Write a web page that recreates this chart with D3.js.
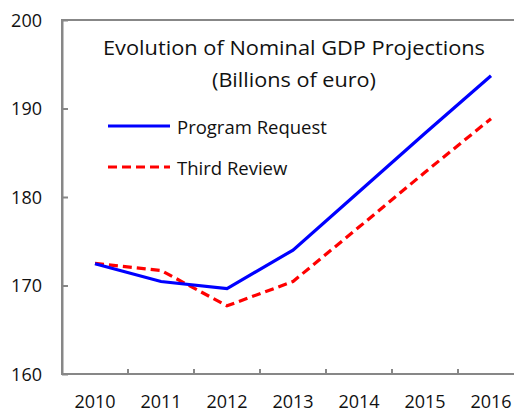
<!DOCTYPE html>
<html>
<head>
<meta charset="utf-8">
<script src="https://cdn.jsdelivr.net/npm/d3@7"></script>
<style>
  html, body { margin: 0; padding: 0; background: #fff; }
  svg { display: block; font-family: "Open Sans", "Noto Sans", sans-serif; }
</style>
</head>
<body>
<svg id="chart" width="514" height="413"></svg>
<script>
const years = ["2010", "2011", "2012", "2013", "2014", "2015", "2016"];
const programRequest = [172.45, 170.45, 169.65, 174.0, 180.6, 187.2, 193.7];
const thirdReview = [172.5, 171.7, 167.7, 170.45, 176.6, 182.8, 188.85];
const yTicks = [160, 170, 180, 190, 200];
const seriesNames = ["Program Request", "Third Review"];
const titleLines = ["Evolution of Nominal GDP Projections", "(Billions of euro)"];

(function () {
const svg = d3.select("#chart");
const mLeft = 62, mRight = 524, mTop = 20, mBottom = 374;

const x = d3.scaleBand().domain(years).range([mLeft, mRight]).padding(0);
const y = d3.scaleLinear().domain([160, 200]).range([mBottom, mTop]);

const axisColor = "#878787";

// Frame
svg.append("rect")
  .attr("x", mLeft).attr("y", mTop)
  .attr("width", mRight - mLeft).attr("height", mBottom - mTop)
  .attr("fill", "none").attr("stroke", axisColor).attr("stroke-width", 2);

// Y axis
const yAxis = svg.append("g")
  .attr("transform", `translate(${mLeft},0)`)
  .call(d3.axisLeft(y).tickValues(yTicks).tickSizeInner(-6).tickSizeOuter(0).tickPadding(20));
yAxis.select(".domain").attr("stroke", axisColor).attr("stroke-width", 2);
yAxis.selectAll(".tick line").attr("stroke", axisColor).attr("stroke-width", 2);
yAxis.selectAll(".tick text")
  .attr("font-size", 18).attr("fill", "#111")
  .attr("font-family", "'Open Sans', sans-serif")
  .attr("dy", "0.36em");

// X axis
const xAxis = svg.append("g").attr("transform", `translate(0,${mBottom})`);
xAxis.append("line")
  .attr("x1", mLeft).attr("x2", mRight).attr("y1", 0).attr("y2", 0)
  .attr("stroke", axisColor).attr("stroke-width", 2);
xAxis.selectAll(".xtick").data(years.slice(1)).enter().append("line")
  .attr("x1", d => x(d)).attr("x2", d => x(d))
  .attr("y1", 0).attr("y2", -5)
  .attr("stroke", axisColor).attr("stroke-width", 2);
xAxis.selectAll(".xlabel").data(years).enter().append("text")
  .attr("x", d => x(d) + x.bandwidth() / 2)
  .attr("y", 34)
  .attr("text-anchor", "middle")
  .attr("font-size", 18).attr("fill", "#111")
  .text(d => d);

// Lines
const line = d3.line()
  .x((d, i) => x(years[i]) + x.bandwidth() / 2)
  .y(d => y(d));

svg.append("path").datum(thirdReview)
  .attr("d", line).attr("fill", "none")
  .attr("stroke", "#ff0000").attr("stroke-width", 3.2)
  .attr("stroke-dasharray", "9,5");

svg.append("path").datum(programRequest)
  .attr("d", line).attr("fill", "none")
  .attr("stroke", "#0000ff").attr("stroke-width", 3.2);

// Title
svg.append("text").attr("x", 294).attr("y", 55)
  .attr("text-anchor", "middle").attr("font-size", 20.5).attr("fill", "#111")
  .attr("textLength", 382).attr("lengthAdjust", "spacingAndGlyphs")
  .text(titleLines[0]);
svg.append("text").attr("x", 294).attr("y", 87)
  .attr("text-anchor", "middle").attr("font-size", 20.5).attr("fill", "#111")
  .attr("textLength", 164).attr("lengthAdjust", "spacingAndGlyphs")
  .text(titleLines[1]);

// Legend
const legend = [
  { name: seriesNames[0], color: "#0000ff", dash: null, ly: 126 },
  { name: seriesNames[1], color: "#ff0000", dash: "9,5", ly: 167 }
];
legend.forEach(l => {
  svg.append("line")
    .attr("x1", 108).attr("x2", 170).attr("y1", l.ly).attr("y2", l.ly)
    .attr("stroke", l.color).attr("stroke-width", 3.2)
    .attr("stroke-dasharray", l.dash);
  svg.append("text").attr("x", 177).attr("y", l.ly + 8)
    .attr("font-size", 18.5).attr("fill", "#111")
    .text(l.name);
});
})();
</script>
</body>
</html>
